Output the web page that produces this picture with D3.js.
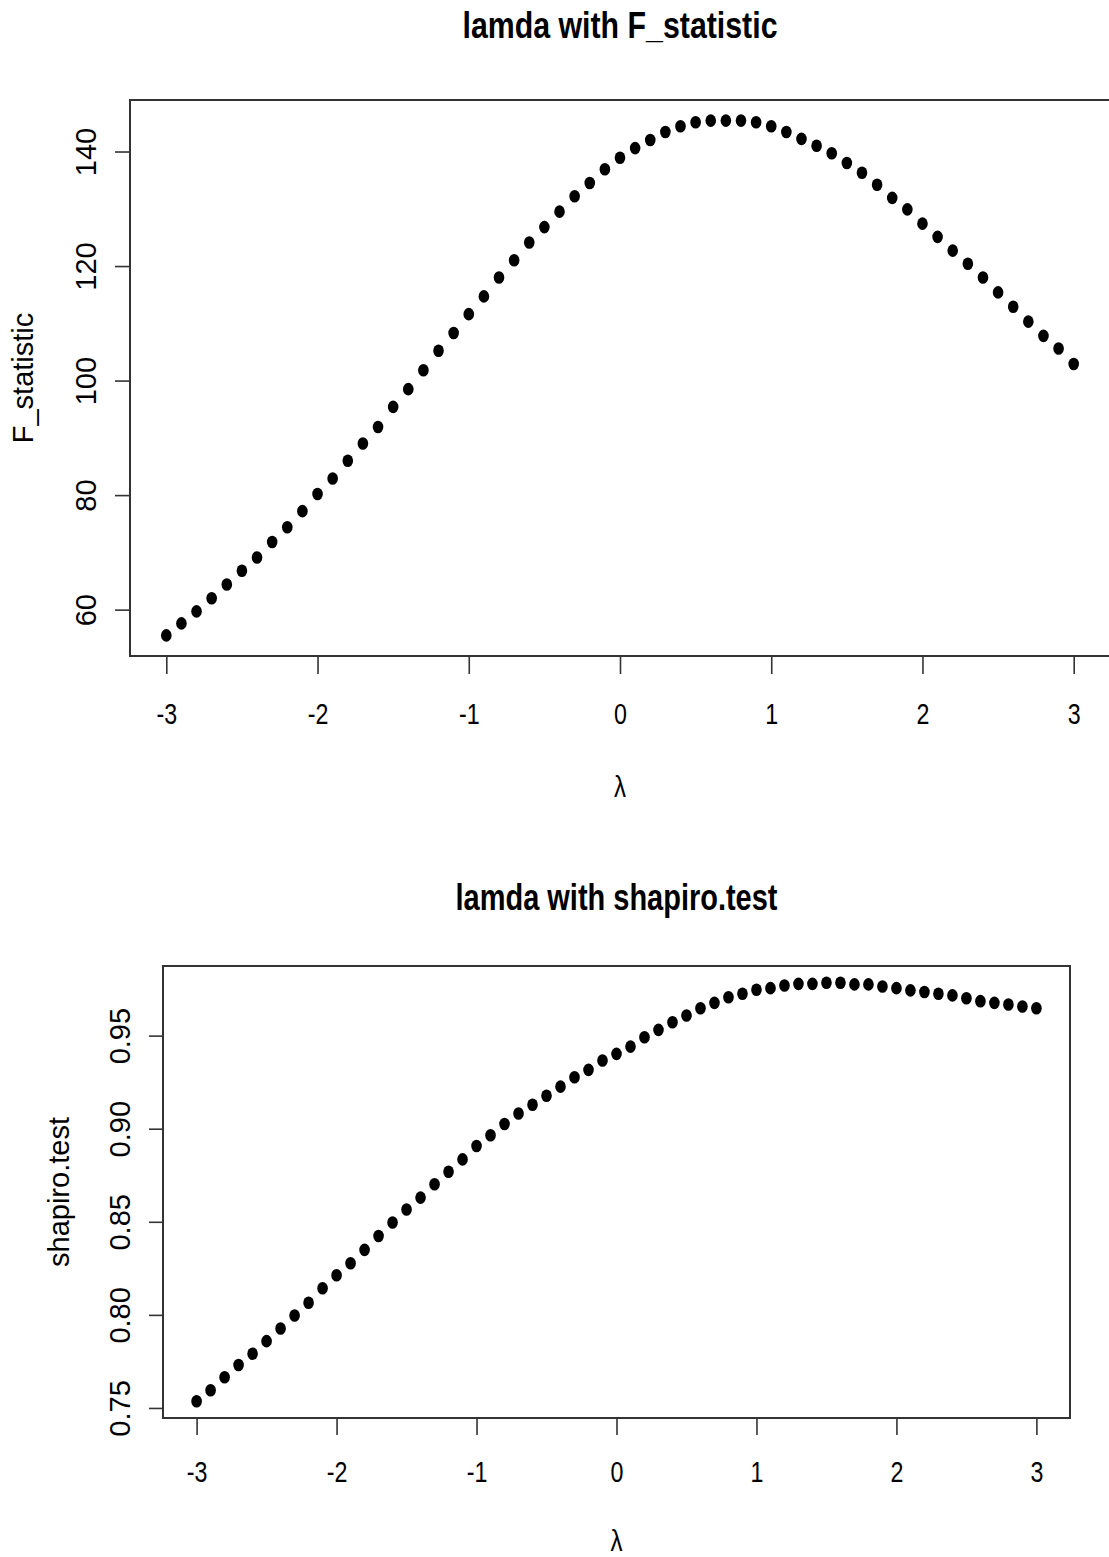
<!DOCTYPE html>
<html>
<head>
<meta charset="utf-8">
<script src="https://cdn.jsdelivr.net/npm/d3@7"></script>
<style>
  body { margin: 0; background: #fff; }
  text { font-family: "Liberation Sans", Arial, sans-serif; fill: #000; }
</style>
</head>
<body>
<div id="grafico"></div>
<script>
// lambda grid, -3 to 3 by 0.1
const lambdas = [
  -3.0, -2.9, -2.8, -2.7, -2.6, -2.5, -2.4, -2.3, -2.2, -2.1,
  -2.0, -1.9, -1.8, -1.7, -1.6, -1.5, -1.4, -1.3, -1.2, -1.1,
  -1.0, -0.9, -0.8, -0.7, -0.6, -0.5, -0.4, -0.3, -0.2, -0.1,
  0.0, 0.1, 0.2, 0.3, 0.4, 0.5, 0.6, 0.7, 0.8, 0.9,
  1.0, 1.1, 1.2, 1.3, 1.4, 1.5, 1.6, 1.7, 1.8, 1.9,
  2.0, 2.1, 2.2, 2.3, 2.4, 2.5, 2.6, 2.7, 2.8, 2.9, 3.0
];

const fStatistic = [
  55.5, 57.6, 59.7, 62.0, 64.4, 66.8, 69.1, 71.8, 74.4, 77.2,
  80.2, 82.9, 86.0, 89.0, 91.9, 95.4, 98.5, 101.8, 105.2, 108.3,
  111.6, 114.7, 118.0, 121.0, 124.1, 126.8, 129.5, 132.2, 134.5, 136.9,
  138.9, 140.6, 142.0, 143.4, 144.4, 145.1, 145.4, 145.4, 145.4, 145.1,
  144.4, 143.4, 142.2, 141.0, 139.7, 138.0, 136.3, 134.2, 131.9, 129.9,
  127.4, 125.1, 122.7, 120.4, 118.0, 115.4, 112.9, 110.3, 107.8, 105.6, 102.9
];

const shapiro = [
  0.7536, 0.7595, 0.7665, 0.7731, 0.7791, 0.7859, 0.7927, 0.7997, 0.8065, 0.8143,
  0.8213, 0.8277, 0.8349, 0.8424, 0.8496, 0.8566, 0.8630, 0.8702, 0.8769, 0.8835,
  0.8907, 0.8965, 0.9025, 0.9082, 0.9129, 0.9177, 0.9226, 0.9276, 0.9316, 0.9366,
  0.9402, 0.9441, 0.9491, 0.9531, 0.9572, 0.9608, 0.9647, 0.9676, 0.9706, 0.9725,
  0.9746, 0.9755, 0.9769, 0.9778, 0.9778, 0.9784, 0.9784, 0.9775, 0.9775, 0.9764,
  0.9755, 0.9743, 0.9734, 0.9725, 0.9716, 0.9701, 0.9685, 0.9676, 0.9667, 0.9656, 0.9647
];

const xTicks = [-3, -2, -1, 0, 1, 2, 3];
const fTicks = [60, 80, 100, 120, 140];
const shapiroTicks = [0.75, 0.80, 0.85, 0.90, 0.95];

const width = 1109;
const height = 1557;

const svg = d3
  .select("#grafico")
  .append("svg")
  .attr("width", width)
  .attr("height", height);

// R-style range: data extent widened by 4% on each side
function rRange(values) {
  const [lo, hi] = d3.extent(values);
  const pad = (hi - lo) * 0.04;
  return [lo - pad, hi + pad];
}

function panel(p) {
  const x = d3.scaleLinear().domain(rRange(lambdas)).range([p.left, p.right]);
  const y = d3.scaleLinear().domain(rRange(p.values)).range([p.bottom, p.top]);

  const g = svg.append("g");

  // Eje X
  const gx = g
    .append("g")
    .attr("transform", `translate(0,${p.bottom})`)
    .call(d3.axisBottom(x).tickValues(xTicks).tickSize(p.xTickLen).tickFormat(d3.format("d")));
  gx.select(".domain").remove();
  gx.selectAll("line").attr("stroke", "#333").attr("stroke-width", 1.6);
  gx.selectAll("text")
    .attr("y", null)
    .attr("dy", null)
    .attr("fill", "#000")
    .attr("transform", `translate(0,${p.xLabY}) scale(0.8,1)`)
    .style("font-size", "29px")
    .text((d) => (d < 0 ? "-" + Math.abs(d) : d));

  // Eje Y
  const gy = g
    .append("g")
    .attr("transform", `translate(${p.left},0)`)
    .call(d3.axisLeft(y).tickValues(p.ticks).tickSize(p.yTickLen).tickFormat(p.fmt));
  gy.select(".domain").remove();
  gy.selectAll("line").attr("stroke", "#333").attr("stroke-width", 1.6);
  gy.selectAll("text")
    .attr("x", null)
    .attr("dy", null)
    .attr("fill", "#000")
    .attr("text-anchor", "middle")
    .attr("transform", `translate(${-p.yLabOff},0) rotate(-90)`)
    .style("font-size", "29px");

  // Marco
  g.append("rect")
    .attr("x", p.left)
    .attr("y", p.top)
    .attr("width", p.right - p.left)
    .attr("height", p.bottom - p.top)
    .attr("fill", "none")
    .attr("stroke", "#333")
    .attr("stroke-width", 2);

  // Puntos
  g.append("g")
    .selectAll("ellipse")
    .data(lambdas.map((l, i) => ({ l, v: p.values[i] })))
    .join("ellipse")
    .attr("cx", (d) => x(d.l))
    .attr("cy", (d) => y(d.v))
    .attr("rx", 5.3)
    .attr("ry", 6.3)
    .attr("fill", "#000");

  // Titulo
  const cx = (p.left + p.right) / 2;
  g.append("text")
    .attr("x", cx)
    .attr("y", p.titleY)
    .attr("text-anchor", "middle")
    .attr("textLength", p.titleLen)
    .attr("lengthAdjust", "spacingAndGlyphs")
    .style("font-size", "36px")
    .style("font-weight", "bold")
    .text(p.title);

  // Etiqueta X
  g.append("text")
    .attr("transform", `translate(${x(0)},${p.lamY}) scale(0.8,1)`)
    .attr("text-anchor", "middle")
    .style("font-size", "30px")
    .text("λ");

  // Etiqueta Y
  g.append("text")
    .attr("transform", `translate(${p.yTitleX},${(p.top + p.bottom) / 2}) rotate(-90)`)
    .attr("text-anchor", "middle")
    .style("font-size", "29px")
    .text(p.ylab);
}

panel({
  values: fStatistic,
  ticks: fTicks,
  fmt: d3.format("d"),
  left: 130, right: 1110, top: 100, bottom: 656,
  xTickLen: 18, yTickLen: 15,
  xLabY: 68, yLabOff: 34,
  titleY: 38, titleLen: 315,
  lamY: 797, yTitleX: 33,
  title: "lamda with F_statistic",
  ylab: "F_statistic",
});

panel({
  values: shapiro,
  ticks: shapiroTicks,
  fmt: d3.format(".2f"),
  left: 163, right: 1070, top: 966, bottom: 1418,
  xTickLen: 17, yTickLen: 14,
  xLabY: 64, yLabOff: 33,
  titleY: 910, titleLen: 322,
  lamY: 1551, yTitleX: 69,
  title: "lamda with shapiro.test",
  ylab: "shapiro.test",
});
</script>
</body>
</html>
